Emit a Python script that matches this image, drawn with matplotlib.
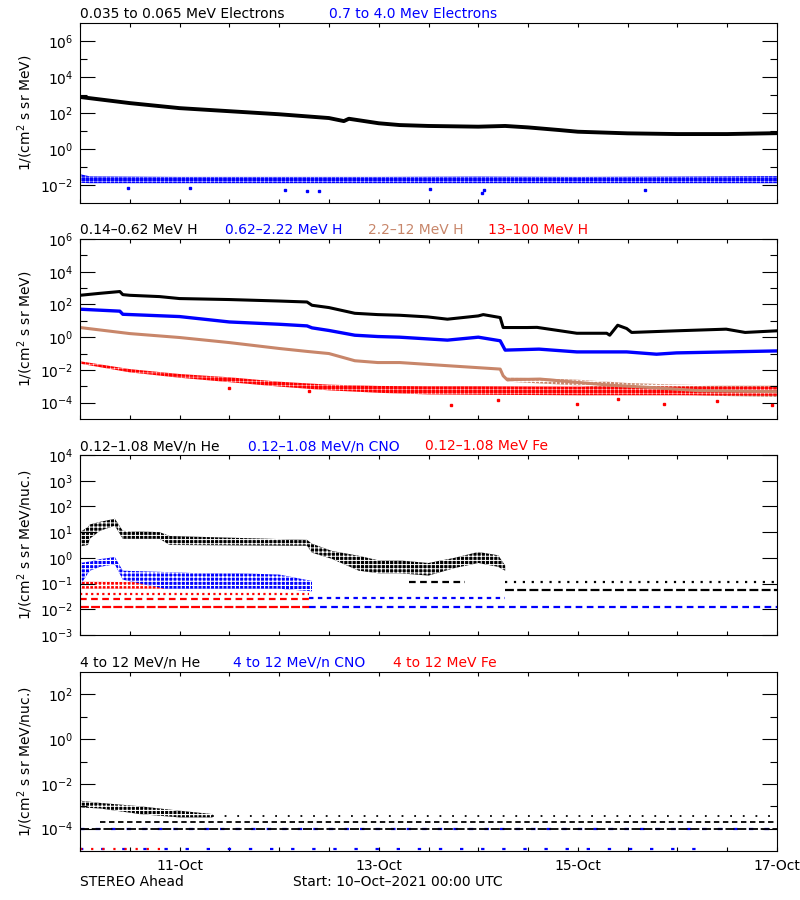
import numpy as np
import matplotlib
matplotlib.use("Agg")
import matplotlib.pyplot as plt
from matplotlib.ticker import FixedLocator, NullFormatter, MultipleLocator, FuncFormatter

plt.rcParams['font.family'] = ['DejaVu Sans']
plt.rcParams['mathtext.fontset'] = 'dejavusans'

BLUE = '#0000ff'
RED = '#ff0000'
BROWN = '#c8866a'

# ── data: time in days since 10-Oct-2021 00:00, flux given as log10 ──

# panel 1: electrons
e_low_t = [0.0, 0.5, 1.0, 1.5, 2.0, 2.5, 2.65, 2.70, 3.0, 3.21, 3.5, 4.0, 4.27, 4.5, 4.82, 5.0, 5.5, 6.0, 6.5, 7.0]
e_low_v = [2.89, 2.55, 2.27, 2.10, 1.93, 1.72, 1.55, 1.68, 1.43, 1.33, 1.28, 1.24, 1.28, 1.20, 1.05, 0.96, 0.87, 0.83, 0.83, 0.88]
e_high_t = [0.0, 0.1, 1.0, 2.0, 3.0, 4.0, 5.0, 6.0, 7.0]
e_high_lo = [-1.88, -1.9, -1.9, -1.9, -1.9, -1.9, -1.9, -1.9, -1.9]
e_high_hi = [-1.4, -1.52, -1.55, -1.55, -1.55, -1.53, -1.55, -1.53, -1.5]
e_high_out_t = [0.48, 1.1, 2.06, 2.28, 2.4, 3.52, 4.04, 4.06, 5.67]
e_high_out_v = [-2.17, -2.17, -2.3, -2.33, -2.33, -2.2, -2.44, -2.3, -2.3]

# panel 2: protons
h1_t = [0.0, 0.2, 0.40, 0.43, 0.5, 0.8, 1.0, 1.5, 2.0, 2.28, 2.33, 2.5, 2.76, 2.99, 3.21, 3.49, 3.69, 4.0,
        4.05, 4.22, 4.25, 4.49, 4.59, 4.99, 5.29, 5.32, 5.40, 5.49, 5.54, 5.99, 6.49, 6.68, 7.0]
h1_v = [2.56, 2.68, 2.79, 2.60, 2.56, 2.48, 2.36, 2.30, 2.21, 2.15, 1.95, 1.81, 1.46, 1.38, 1.34, 1.24, 1.10, 1.30,
        1.38, 1.20, 0.59, 0.59, 0.60, 0.24, 0.24, 0.12, 0.73, 0.53, 0.29, 0.39, 0.49, 0.29, 0.39]
h2_t = [0.0, 0.40, 0.43, 1.0, 1.5, 2.0, 2.28, 2.33, 2.5, 2.76, 2.99, 3.21, 3.69, 4.0, 4.22, 4.27, 4.61, 4.99,
        5.49, 5.79, 5.99, 7.0]
h2_v = [1.71, 1.59, 1.40, 1.26, 0.93, 0.79, 0.69, 0.57, 0.41, 0.12, 0.04, 0.0, -0.18, 0.0, -0.22, -0.79, -0.73,
        -0.90, -0.90, -1.04, -0.96, -0.84]
h3_t = [0.0, 0.5, 1.0, 1.5, 2.0, 2.28, 2.5, 2.76, 2.99, 3.21, 3.71, 4.22, 4.25, 4.29, 4.62, 4.99, 5.32, 5.72, 6.22, 7.0]
h3_v = [0.59, 0.22, -0.02, -0.33, -0.69, -0.87, -1.0, -1.44, -1.55, -1.55, -1.75, -1.95, -2.36, -2.6, -2.56,
        -2.76, -2.93, -3.07, -3.27, -3.33]
h3_band_t = [4.29, 5.0, 5.5, 6.0, 6.5, 7.0]
h3_band_lo = [-2.72, -2.95, -3.3, -3.5, -3.6, -3.65]
h3_band_hi = [-2.45, -2.6, -2.8, -2.9, -2.95, -2.95]
h4_t = [0.0, 0.5, 1.0, 1.5, 2.0, 2.5, 3.0, 3.5, 4.0, 5.0, 6.0, 7.0]
h4_lo = [-1.62, -2.15, -2.48, -2.75, -3.02, -3.25, -3.4, -3.5, -3.52, -3.55, -3.55, -3.58]
h4_hi = [-1.47, -1.95, -2.25, -2.45, -2.72, -2.9, -2.98, -3.0, -3.0, -3.02, -3.02, -3.02]
h4_out_t = [1.5, 2.3, 3.73, 4.2, 4.99, 5.4, 5.87, 6.4, 6.95]
h4_out_v = [-3.1, -3.3, -4.15, -3.85, -4.1, -3.8, -4.1, -3.9, -4.15]

# panel 3: 0.12-1.08 MeV/n heavy ions
he_t = [0.0, 0.08, 0.1, 0.2, 0.35, 0.43, 0.8, 0.9, 2.28, 2.33, 2.53, 2.8, 3.0, 3.21, 3.5, 3.76, 4.0, 4.2, 4.27]
he_lo = [0.45, 0.5, 0.75, 1.05, 1.25, 0.74, 0.74, 0.5, 0.47, 0.2, -0.04, -0.5, -0.6, -0.6, -0.69, -0.4, -0.2, -0.35, -0.5]
he_hi = [1.0, 1.2, 1.3, 1.4, 1.52, 1.05, 1.0, 0.85, 0.7, 0.55, 0.27, 0.08, -0.1, -0.1, -0.2, 0.0, 0.23, 0.1, -0.3]
cno_t = [0.0, 0.08, 0.1, 0.2, 0.35, 0.43, 0.85, 1.2, 1.6, 2.0, 2.33]
cno_lo = [-1.08, -0.6, -0.5, -0.35, -0.25, -0.85, -1.2, -1.2, -1.2, -1.2, -1.3]
cno_hi = [-0.2, -0.15, -0.15, -0.05, 0.03, -0.5, -0.55, -0.6, -0.6, -0.65, -0.9]
fe_t = [0.0, 0.85]
fe_lo = [-1.2, -1.2]
fe_hi = [-0.93, -0.95]
he_lvl_v = [-0.92, -1.25, -0.92]
he_lvl_t0 = [4.27, 4.27, 3.3]
he_lvl_t1 = [7.0, 7.0, 3.87]
cno_lvl_v = [-1.57, -1.92]
cno_lvl_t0 = [2.3, 2.3]
cno_lvl_t1 = [4.27, 7.0]
fe_lvl_v = [-1.4, -1.6, -1.92]
fe_lvl_t0 = [0.0, 0.0, 0.0]
fe_lvl_t1 = [2.3, 2.3, 2.3]

# panel 4: 4-12 MeV/n heavy ions
he4_t = [0.0, 0.2, 0.6, 1.0, 1.33]
he4_lo = [-3.05, -3.1, -3.35, -3.5, -3.5]
he4_hi = [-2.75, -2.85, -3.0, -3.2, -3.35]
he4_lvl_v = [-3.42, -3.72, -4.0]
he4_lvl_t0 = [1.33, 0.2, 0.0]
he4_lvl_t1 = [7.0, 7.0, 7.0]
cno4_lvl_v = [-4.0, -4.93]
cno4_lvl_t0 = [0.0, 0.0]
cno4_lvl_t1 = [7.0, 6.3]
fe4_lvl_v = [-4.93]
fe4_lvl_t0 = [0.0]
fe4_lvl_t1 = [0.8]

date_days = [1, 3, 5, 7]
date_labels = ['11-Oct', '13-Oct', '15-Oct', '17-Oct']

# ── figure ──
W, H = 800, 900
fig = plt.figure(figsize=(W / 100, H / 100), dpi=100)


def make_axes(top, bottom):
    return fig.add_axes([80 / W, 1 - bottom / H, 697 / W, (bottom - top) / H])


def style_axis(ax, lo, hi, labeled, unlabeled, ylabel):
    ax.set_yscale('log')
    ax.set_ylim(10.0 ** lo, 10.0 ** hi)
    ax.set_xlim(0, 7)
    ax.yaxis.set_major_locator(FixedLocator([10.0 ** e for e in labeled]))
    ax.yaxis.set_major_formatter(FuncFormatter(lambda v, p: f'$10^{{{int(round(np.log10(v)))}}}$'))
    ax.yaxis.set_minor_locator(FixedLocator([10.0 ** e for e in unlabeled]))
    ax.yaxis.set_minor_formatter(NullFormatter())
    ax.xaxis.set_major_locator(MultipleLocator(0.5))
    ax.xaxis.set_major_formatter(NullFormatter())
    ax.tick_params(axis='y', which='major', direction='in', length=11, width=0.8,
                   left=True, right=True, pad=5, labelsize=10)
    ax.tick_params(axis='y', which='minor', direction='in', length=5, width=0.8, left=True, right=True)
    ax.tick_params(axis='x', which='major', direction='in', length=3, width=0.8, top=True, bottom=True)
    for s in ax.spines.values():
        s.set_linewidth(0.8)
    ax.set_ylabel(ylabel, fontsize=10)
    ax.yaxis.set_label_coords(-45 / 697, 0.5)


def band(ax, t, lo, hi, color, gap=0.6):
    # scattered samples: envelope filled with a grid of small squares
    with plt.rc_context({'hatch.linewidth': gap}):
        ax.fill_between(t, 10.0 ** np.array(lo), 10.0 ** np.array(hi), facecolor=color,
                        edgecolor='white', hatch='++++', lw=0)


def levels(ax, vals, t0, t1, color, ls, lw=1.6):
    ax.hlines(10.0 ** np.array(vals), t0, t1, colors=color, linestyles=ls, lw=lw)


def title_row(y, items):
    for x, txt, col in items:
        fig.text(x / W, 1 - y / H, txt, color=col, fontsize=10, va='baseline', ha='left')


# panel 1
ax1 = make_axes(23, 203)
style_axis(ax1, -3, 7, [-2, 0, 2, 4, 6], [-1, 1, 3, 5], '1/(cm$^2$ s sr MeV)')
ax1.plot(e_low_t, 10.0 ** np.array(e_low_v), color='black', lw=2.8)
band(ax1, e_high_t, e_high_lo, e_high_hi, BLUE, gap=0.3)
ax1.plot(e_high_out_t, 10.0 ** np.array(e_high_out_v), 's', color=BLUE, ms=1.5, ls='none')
title_row(18, [(80, '0.035 to 0.065 MeV Electrons', 'black'), (329, '0.7 to 4.0 Mev Electrons', BLUE)])

# panel 2
ax2 = make_axes(239, 419)
style_axis(ax2, -5, 6, [-4, -2, 0, 2, 4, 6], [-3, -1, 1, 3, 5], '1/(cm$^2$ s sr MeV)')
band(ax2, h3_band_t, h3_band_lo, h3_band_hi, BROWN, gap=0.9)
band(ax2, h4_t, h4_lo, h4_hi, RED, gap=0.3)
ax2.plot(h4_out_t, 10.0 ** np.array(h4_out_v), 's', color=RED, ms=1.5, ls='none')
ax2.plot(h3_t, 10.0 ** np.array(h3_v), color=BROWN, lw=2.2)
ax2.plot(h2_t, 10.0 ** np.array(h2_v), color=BLUE, lw=2.4)
ax2.plot(h1_t, 10.0 ** np.array(h1_v), color='black', lw=2.2)
title_row(234, [(80, '0.14\u20130.62 MeV H', 'black'), (225, '0.62\u20132.22 MeV H', BLUE),
                (368, '2.2\u201312 MeV H', BROWN), (488, '13\u2013100 MeV H', RED)])

# panel 3
ax3 = make_axes(455, 635)
style_axis(ax3, -3, 4, [-3, -2, -1, 0, 1, 2, 3, 4], [], '1/(cm$^2$ s sr MeV/nuc.)')
levels(ax3, fe_lvl_v, fe_lvl_t0, fe_lvl_t1, RED, [(0, (1, 1.5)), (0, (3, 2)), (0, (4, 1))])
levels(ax3, cno_lvl_v, cno_lvl_t0, cno_lvl_t1, BLUE, [(0, (2, 2)), (0, (3, 2))])
levels(ax3, he_lvl_v, he_lvl_t0, he_lvl_t1, 'black', [(0, (1, 3)), (0, (4, 1.5)), (0, (3, 2))])
band(ax3, fe_t, fe_lo, fe_hi, RED, gap=1.0)
band(ax3, cno_t, cno_lo, cno_hi, BLUE, gap=0.8)
band(ax3, he_t, he_lo, he_hi, 'black', gap=0.7)
title_row(450, [(80, '0.12\u20131.08 MeV/n He', 'black'), (248, '0.12\u20131.08 MeV/n CNO', BLUE),
                (425, '0.12\u20131.08 MeV Fe', RED)])

# panel 4
ax4 = make_axes(672, 851)
style_axis(ax4, -5, 3, [-4, -2, 0, 2], [-3, -1, 1], '1/(cm$^2$ s sr MeV/nuc.)')
levels(ax4, cno4_lvl_v, cno4_lvl_t0, cno4_lvl_t1, BLUE, [(0, (2, 5)), (0, (1.5, 8))])
levels(ax4, fe4_lvl_v, fe4_lvl_t0, fe4_lvl_t1, RED, (0, (1, 4)))
levels(ax4, he4_lvl_v, he4_lvl_t0, he4_lvl_t1, 'black', [(0, (1, 6)), (0, (3, 2)), (0, (5, 1.5))], lw=1.3)
band(ax4, he4_t, he4_lo, he4_hi, 'black', gap=0.8)
title_row(667, [(80, '4 to 12 MeV/n He', 'black'), (233, '4 to 12 MeV/n CNO', BLUE),
                (393, '4 to 12 MeV Fe', RED)])
ax4.xaxis.set_major_formatter(FuncFormatter(
    lambda v, p: date_labels[date_days.index(int(round(v)))] if abs(v - round(v)) < 1e-6 and int(round(v)) in date_days else ''))
ax4.tick_params(axis='x', labelsize=10, pad=6)

fig.text(80 / W, 1 - 886 / H, 'STEREO Ahead', fontsize=10, va='baseline')
fig.text(293 / W, 1 - 886 / H, 'Start: 10\u2013Oct\u20132021 00:00 UTC', fontsize=10, va='baseline')

fig.savefig('out.png', dpi=100)
